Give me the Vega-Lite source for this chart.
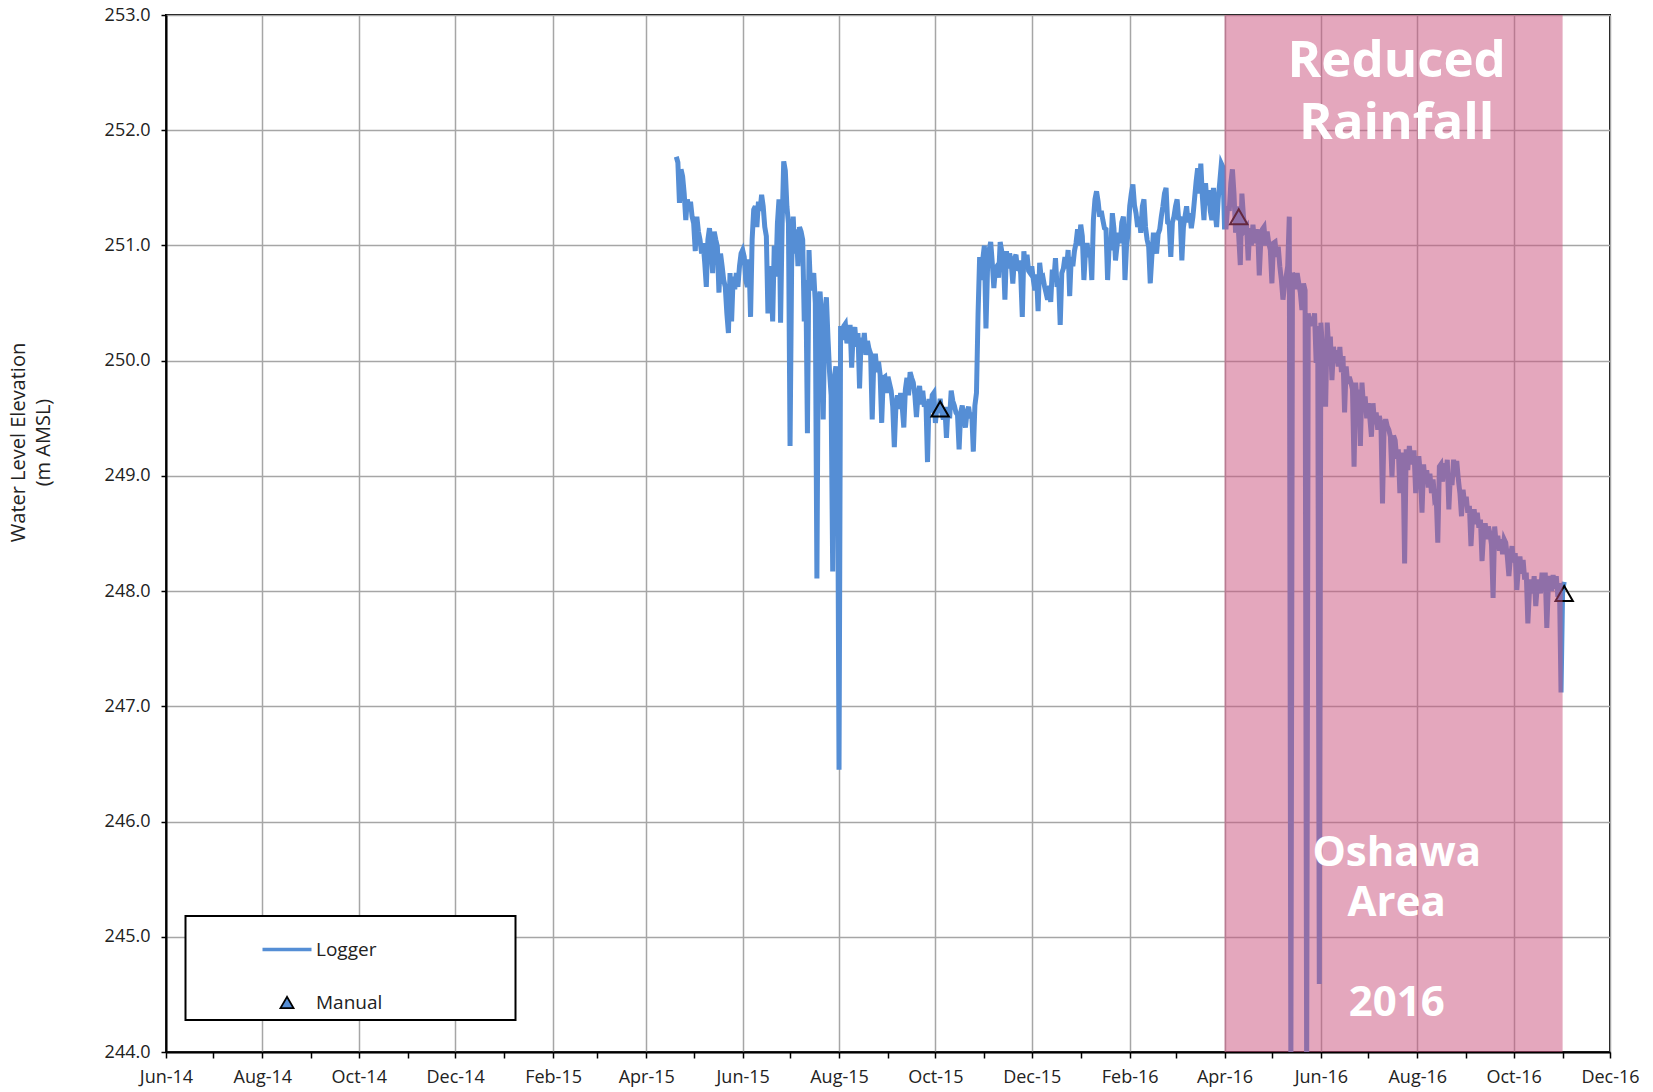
{
"$schema": "https://vega.github.io/schema/vega-lite/v6.json",
"width": 1444, "height": 1037,
"autosize": {"type": "none"},
"padding": {"left": 166, "top": 15, "right": 43, "bottom": 40},
"background": "white",
"config": {
 "font": "Open Sans",
 "view": {"stroke": "black", "strokeWidth": 2},
 "axis": {"domainColor": "black", "domainWidth": 2, "tickColor": "black", "tickWidth": 1.5, "gridColor": "#A6A6A6", "gridWidth": 1.5, "labelFont": "Open Sans", "labelFontSize": 18, "labelColor": "#222222", "titleFont": "Open Sans", "titleFontWeight": "normal", "titleFontSize": 20, "titleColor": "#222222"},
 "legend": {"strokeWidth": 2}
},
"datasets": {
"logger": [
{"d":"2015-04-20","v":251.77},{"d":"2015-04-21","v":251.72},{"d":"2015-04-22","v":251.37},{"d":"2015-04-23","v":251.66},{"d":"2015-04-24","v":251.60},{"d":"2015-04-25","v":251.45},{"d":"2015-04-26","v":251.22},{"d":"2015-04-27","v":251.40},{"d":"2015-04-28","v":251.30},{"d":"2015-04-29","v":251.38},{"d":"2015-04-30","v":251.25},
{"d":"2015-05-01","v":251.19},{"d":"2015-05-02","v":250.95},{"d":"2015-05-03","v":251.25},{"d":"2015-05-04","v":251.12},{"d":"2015-05-05","v":251.05},{"d":"2015-05-06","v":250.93},{"d":"2015-05-07","v":251.02},{"d":"2015-05-08","v":250.85},{"d":"2015-05-09","v":250.64},{"d":"2015-05-10","v":251.05},{"d":"2015-05-11","v":251.15},{"d":"2015-05-12","v":251.00},{"d":"2015-05-13","v":250.76},{"d":"2015-05-14","v":251.12},{"d":"2015-05-15","v":251.05},{"d":"2015-05-16","v":250.99},{"d":"2015-05-17","v":250.59},{"d":"2015-05-18","v":250.93},{"d":"2015-05-19","v":250.82},{"d":"2015-05-20","v":250.70},{"d":"2015-05-21","v":250.64},{"d":"2015-05-22","v":250.41},{"d":"2015-05-23","v":250.24},{"d":"2015-05-24","v":250.76},{"d":"2015-05-25","v":250.34},{"d":"2015-05-26","v":250.73},{"d":"2015-05-27","v":250.62},{"d":"2015-05-28","v":250.76},{"d":"2015-05-29","v":250.64},{"d":"2015-05-30","v":250.82},{"d":"2015-05-31","v":250.93},
{"d":"2015-06-01","v":250.96},{"d":"2015-06-02","v":250.90},{"d":"2015-06-03","v":250.70},{"d":"2015-06-04","v":250.64},{"d":"2015-06-05","v":250.88},{"d":"2015-06-06","v":250.38},{"d":"2015-06-07","v":251.05},{"d":"2015-06-08","v":251.31},{"d":"2015-06-09","v":251.34},{"d":"2015-06-10","v":251.16},{"d":"2015-06-11","v":251.38},{"d":"2015-06-12","v":251.30},{"d":"2015-06-13","v":251.44},{"d":"2015-06-14","v":251.34},{"d":"2015-06-15","v":251.16},{"d":"2015-06-16","v":251.08},{"d":"2015-06-17","v":250.41},{"d":"2015-06-18","v":250.82},{"d":"2015-06-19","v":250.67},{"d":"2015-06-20","v":250.34},{"d":"2015-06-21","v":251.00},{"d":"2015-06-22","v":250.73},{"d":"2015-06-23","v":251.19},{"d":"2015-06-24","v":251.40},{"d":"2015-06-25","v":250.33},{"d":"2015-06-26","v":251.19},{"d":"2015-06-27","v":251.73},{"d":"2015-06-28","v":251.65},{"d":"2015-06-29","v":251.34},{"d":"2015-06-30","v":251.19},
{"d":"2015-07-01","v":249.26},{"d":"2015-07-02","v":250.82},{"d":"2015-07-03","v":251.25},{"d":"2015-07-04","v":250.93},{"d":"2015-07-05","v":251.14},{"d":"2015-07-06","v":250.82},{"d":"2015-07-07","v":251.16},{"d":"2015-07-08","v":251.12},{"d":"2015-07-09","v":251.05},{"d":"2015-07-10","v":250.34},{"d":"2015-07-11","v":250.70},{"d":"2015-07-12","v":249.37},{"d":"2015-07-13","v":250.96},{"d":"2015-07-14","v":250.61},{"d":"2015-07-15","v":250.70},{"d":"2015-07-16","v":250.76},{"d":"2015-07-17","v":250.50},{"d":"2015-07-18","v":248.11},{"d":"2015-07-19","v":250.50},{"d":"2015-07-20","v":250.60},{"d":"2015-07-21","v":250.35},{"d":"2015-07-22","v":249.49},{"d":"2015-07-23","v":250.40},{"d":"2015-07-24","v":250.55},{"d":"2015-07-25","v":250.20},{"d":"2015-07-26","v":249.90},{"d":"2015-07-27","v":249.70},{"d":"2015-07-28","v":248.17},{"d":"2015-07-29","v":249.85},{"d":"2015-07-30","v":249.95},{"d":"2015-07-31","v":249.60},
{"d":"2015-08-01","v":246.45},{"d":"2015-08-02","v":250.30},{"d":"2015-08-03","v":250.18},{"d":"2015-08-04","v":250.30},{"d":"2015-08-05","v":250.32},{"d":"2015-08-06","v":250.15},{"d":"2015-08-07","v":250.25},{"d":"2015-08-08","v":250.31},{"d":"2015-08-09","v":249.94},{"d":"2015-08-10","v":250.25},{"d":"2015-08-11","v":250.29},{"d":"2015-08-12","v":250.12},{"d":"2015-08-13","v":250.24},{"d":"2015-08-14","v":249.76},{"d":"2015-08-15","v":250.20},{"d":"2015-08-16","v":250.08},{"d":"2015-08-17","v":250.24},{"d":"2015-08-18","v":250.05},{"d":"2015-08-19","v":250.17},{"d":"2015-08-20","v":250.10},{"d":"2015-08-21","v":250.06},{"d":"2015-08-22","v":249.49},{"d":"2015-08-23","v":250.00},{"d":"2015-08-24","v":250.06},{"d":"2015-08-25","v":249.90},{"d":"2015-08-26","v":249.99},{"d":"2015-08-27","v":249.88},{"d":"2015-08-28","v":249.46},{"d":"2015-08-29","v":249.85},{"d":"2015-08-30","v":249.86},{"d":"2015-08-31","v":249.72},
{"d":"2015-09-01","v":249.86},{"d":"2015-09-02","v":249.80},{"d":"2015-09-03","v":249.74},{"d":"2015-09-04","v":249.60},{"d":"2015-09-05","v":249.25},{"d":"2015-09-06","v":249.60},{"d":"2015-09-07","v":249.70},{"d":"2015-09-08","v":249.58},{"d":"2015-09-09","v":249.72},{"d":"2015-09-10","v":249.60},{"d":"2015-09-11","v":249.42},{"d":"2015-09-12","v":249.75},{"d":"2015-09-13","v":249.85},{"d":"2015-09-14","v":249.70},{"d":"2015-09-15","v":249.90},{"d":"2015-09-16","v":249.85},{"d":"2015-09-17","v":249.81},{"d":"2015-09-18","v":249.70},{"d":"2015-09-19","v":249.51},{"d":"2015-09-20","v":249.70},{"d":"2015-09-21","v":249.78},{"d":"2015-09-22","v":249.62},{"d":"2015-09-23","v":249.74},{"d":"2015-09-24","v":249.60},{"d":"2015-09-25","v":249.65},{"d":"2015-09-26","v":249.12},{"d":"2015-09-27","v":249.67},{"d":"2015-09-28","v":249.55},{"d":"2015-09-29","v":249.70},{"d":"2015-09-30","v":249.72},
{"d":"2015-10-01","v":249.46},{"d":"2015-10-02","v":249.60},{"d":"2015-10-03","v":249.55},{"d":"2015-10-04","v":249.67},{"d":"2015-10-05","v":249.55},{"d":"2015-10-06","v":249.49},{"d":"2015-10-07","v":249.60},{"d":"2015-10-08","v":249.33},{"d":"2015-10-09","v":249.60},{"d":"2015-10-10","v":249.50},{"d":"2015-10-11","v":249.74},{"d":"2015-10-12","v":249.65},{"d":"2015-10-13","v":249.61},{"d":"2015-10-14","v":249.55},{"d":"2015-10-15","v":249.53},{"d":"2015-10-16","v":249.23},{"d":"2015-10-17","v":249.55},{"d":"2015-10-18","v":249.61},{"d":"2015-10-19","v":249.50},{"d":"2015-10-20","v":249.42},{"d":"2015-10-21","v":249.55},{"d":"2015-10-22","v":249.60},{"d":"2015-10-23","v":249.50},{"d":"2015-10-24","v":249.55},{"d":"2015-10-25","v":249.21},{"d":"2015-10-26","v":249.61},{"d":"2015-10-27","v":249.72},{"d":"2015-10-28","v":250.40},{"d":"2015-10-29","v":250.90},{"d":"2015-10-30","v":250.70},{"d":"2015-10-31","v":250.88},
{"d":"2015-11-01","v":251.00},{"d":"2015-11-02","v":250.28},{"d":"2015-11-03","v":250.80},{"d":"2015-11-04","v":250.96},{"d":"2015-11-05","v":251.03},{"d":"2015-11-06","v":250.85},{"d":"2015-11-07","v":250.63},{"d":"2015-11-08","v":250.80},{"d":"2015-11-09","v":250.82},{"d":"2015-11-10","v":250.72},{"d":"2015-11-11","v":251.03},{"d":"2015-11-12","v":250.95},{"d":"2015-11-13","v":250.90},{"d":"2015-11-14","v":250.53},{"d":"2015-11-15","v":250.95},{"d":"2015-11-16","v":250.80},{"d":"2015-11-17","v":250.93},{"d":"2015-11-18","v":250.85},{"d":"2015-11-19","v":250.67},{"d":"2015-11-20","v":250.88},{"d":"2015-11-21","v":250.92},{"d":"2015-11-22","v":250.78},{"d":"2015-11-23","v":250.87},{"d":"2015-11-24","v":250.75},{"d":"2015-11-25","v":250.38},{"d":"2015-11-26","v":250.95},{"d":"2015-11-27","v":250.80},{"d":"2015-11-28","v":250.92},{"d":"2015-11-29","v":250.78},{"d":"2015-11-30","v":250.76},
{"d":"2015-12-01","v":250.82},{"d":"2015-12-02","v":250.70},{"d":"2015-12-03","v":250.61},{"d":"2015-12-04","v":250.75},{"d":"2015-12-05","v":250.43},{"d":"2015-12-06","v":250.85},{"d":"2015-12-07","v":250.72},{"d":"2015-12-08","v":250.73},{"d":"2015-12-09","v":250.65},{"d":"2015-12-10","v":250.59},{"d":"2015-12-11","v":250.53},{"d":"2015-12-12","v":250.65},{"d":"2015-12-13","v":250.51},{"d":"2015-12-14","v":250.79},{"d":"2015-12-15","v":250.70},{"d":"2015-12-16","v":250.89},{"d":"2015-12-17","v":250.64},{"d":"2015-12-18","v":250.70},{"d":"2015-12-19","v":250.31},{"d":"2015-12-20","v":250.76},{"d":"2015-12-21","v":250.80},{"d":"2015-12-22","v":250.90},{"d":"2015-12-23","v":250.80},{"d":"2015-12-24","v":250.96},{"d":"2015-12-25","v":250.56},{"d":"2015-12-26","v":250.90},{"d":"2015-12-27","v":250.82},{"d":"2015-12-28","v":250.95},{"d":"2015-12-29","v":251.02},{"d":"2015-12-30","v":251.14},{"d":"2015-12-31","v":251.00},
{"d":"2016-01-01","v":251.18},{"d":"2016-01-02","v":251.08},{"d":"2016-01-03","v":250.70},{"d":"2016-01-04","v":250.95},{"d":"2016-01-05","v":251.02},{"d":"2016-01-06","v":250.90},{"d":"2016-01-07","v":250.96},{"d":"2016-01-08","v":250.70},{"d":"2016-01-09","v":251.22},{"d":"2016-01-10","v":251.40},{"d":"2016-01-11","v":251.47},{"d":"2016-01-12","v":251.38},{"d":"2016-01-13","v":251.25},{"d":"2016-01-14","v":251.30},{"d":"2016-01-15","v":251.22},{"d":"2016-01-16","v":251.15},{"d":"2016-01-17","v":251.14},{"d":"2016-01-18","v":250.70},{"d":"2016-01-19","v":251.00},{"d":"2016-01-20","v":250.96},{"d":"2016-01-21","v":251.28},{"d":"2016-01-22","v":251.15},{"d":"2016-01-23","v":250.87},{"d":"2016-01-24","v":251.00},{"d":"2016-01-25","v":251.11},{"d":"2016-01-26","v":251.02},{"d":"2016-01-27","v":251.20},{"d":"2016-01-28","v":251.25},{"d":"2016-01-29","v":250.70},{"d":"2016-01-30","v":251.00},{"d":"2016-01-31","v":251.11},
{"d":"2016-02-01","v":251.34},{"d":"2016-02-02","v":251.45},{"d":"2016-02-03","v":251.53},{"d":"2016-02-04","v":251.35},{"d":"2016-02-05","v":251.28},{"d":"2016-02-06","v":251.16},{"d":"2016-02-07","v":251.25},{"d":"2016-02-08","v":251.11},{"d":"2016-02-09","v":251.34},{"d":"2016-02-10","v":251.40},{"d":"2016-02-11","v":251.16},{"d":"2016-02-12","v":251.05},{"d":"2016-02-13","v":250.99},{"d":"2016-02-14","v":250.67},{"d":"2016-02-15","v":250.90},{"d":"2016-02-16","v":251.11},{"d":"2016-02-17","v":251.00},{"d":"2016-02-18","v":250.93},{"d":"2016-02-19","v":251.10},{"d":"2016-02-20","v":251.14},{"d":"2016-02-21","v":251.25},{"d":"2016-02-22","v":251.34},{"d":"2016-02-23","v":251.45},{"d":"2016-02-24","v":251.50},{"d":"2016-02-25","v":251.20},{"d":"2016-02-26","v":251.19},{"d":"2016-02-27","v":250.90},{"d":"2016-02-28","v":251.20},{"d":"2016-02-29","v":251.25},
{"d":"2016-03-01","v":251.34},{"d":"2016-03-02","v":251.40},{"d":"2016-03-03","v":251.22},{"d":"2016-03-04","v":251.25},{"d":"2016-03-05","v":250.87},{"d":"2016-03-06","v":251.16},{"d":"2016-03-07","v":251.25},{"d":"2016-03-08","v":251.34},{"d":"2016-03-09","v":251.20},{"d":"2016-03-10","v":251.28},{"d":"2016-03-11","v":251.15},{"d":"2016-03-12","v":251.25},{"d":"2016-03-13","v":251.40},{"d":"2016-03-14","v":251.55},{"d":"2016-03-15","v":251.67},{"d":"2016-03-16","v":251.45},{"d":"2016-03-17","v":251.71},{"d":"2016-03-18","v":251.42},{"d":"2016-03-19","v":251.22},{"d":"2016-03-20","v":251.54},{"d":"2016-03-21","v":251.35},{"d":"2016-03-22","v":251.48},{"d":"2016-03-23","v":251.30},{"d":"2016-03-24","v":251.22},{"d":"2016-03-25","v":251.50},{"d":"2016-03-26","v":251.30},{"d":"2016-03-27","v":251.16},{"d":"2016-03-28","v":251.40},{"d":"2016-03-29","v":251.55},{"d":"2016-03-30","v":251.71},{"d":"2016-03-31","v":251.68},
{"d":"2016-04-01","v":251.16},{"d":"2016-04-02","v":251.16},{"d":"2016-04-03","v":251.34},{"d":"2016-04-04","v":251.30},{"d":"2016-04-05","v":251.54},{"d":"2016-04-06","v":251.66},{"d":"2016-04-07","v":251.45},{"d":"2016-04-08","v":251.11},{"d":"2016-04-09","v":251.34},{"d":"2016-04-10","v":251.08},{"d":"2016-04-11","v":250.83},{"d":"2016-04-12","v":251.45},{"d":"2016-04-13","v":251.25},{"d":"2016-04-14","v":251.14},{"d":"2016-04-15","v":251.16},{"d":"2016-04-16","v":250.87},{"d":"2016-04-17","v":251.15},{"d":"2016-04-18","v":251.00},{"d":"2016-04-19","v":251.18},{"d":"2016-04-20","v":251.02},{"d":"2016-04-21","v":251.08},{"d":"2016-04-22","v":251.14},{"d":"2016-04-23","v":250.74},{"d":"2016-04-24","v":251.05},{"d":"2016-04-25","v":251.14},{"d":"2016-04-26","v":251.16},{"d":"2016-04-27","v":251.00},{"d":"2016-04-28","v":251.12},{"d":"2016-04-29","v":251.02},{"d":"2016-04-30","v":250.96},
{"d":"2016-05-01","v":250.67},{"d":"2016-05-02","v":251.02},{"d":"2016-05-03","v":251.03},{"d":"2016-05-04","v":250.90},{"d":"2016-05-05","v":250.99},{"d":"2016-05-06","v":250.82},{"d":"2016-05-07","v":250.70},{"d":"2016-05-08","v":250.53},{"d":"2016-05-09","v":250.65},{"d":"2016-05-10","v":250.73},{"d":"2016-05-11","v":250.82},{"d":"2016-05-12","v":251.25},{"d":"2016-05-13","v":243.8},{"d":"2016-05-14","v":250.76},{"d":"2016-05-15","v":250.73},{"d":"2016-05-16","v":250.62},{"d":"2016-05-17","v":250.76},{"d":"2016-05-18","v":250.67},{"d":"2016-05-19","v":250.59},{"d":"2016-05-20","v":250.44},{"d":"2016-05-21","v":250.67},{"d":"2016-05-22","v":250.61},{"d":"2016-05-23","v":243.8},{"d":"2016-05-24","v":250.41},{"d":"2016-05-25","v":250.30},{"d":"2016-05-26","v":250.38},{"d":"2016-05-27","v":250.33},{"d":"2016-05-28","v":250.41},{"d":"2016-05-29","v":249.98},{"d":"2016-05-30","v":250.30},{"d":"2016-05-31","v":244.59},
{"d":"2016-06-01","v":250.33},{"d":"2016-06-02","v":250.10},{"d":"2016-06-03","v":250.15},{"d":"2016-06-04","v":249.60},{"d":"2016-06-05","v":250.33},{"d":"2016-06-06","v":250.10},{"d":"2016-06-07","v":250.21},{"d":"2016-06-08","v":249.83},{"d":"2016-06-09","v":250.12},{"d":"2016-06-10","v":249.98},{"d":"2016-06-11","v":250.09},{"d":"2016-06-12","v":249.95},{"d":"2016-06-13","v":250.12},{"d":"2016-06-14","v":249.90},{"d":"2016-06-15","v":250.04},{"d":"2016-06-16","v":249.55},{"d":"2016-06-17","v":249.95},{"d":"2016-06-18","v":249.80},{"d":"2016-06-19","v":249.86},{"d":"2016-06-20","v":249.81},{"d":"2016-06-21","v":249.75},{"d":"2016-06-22","v":249.08},{"d":"2016-06-23","v":249.81},{"d":"2016-06-24","v":249.62},{"d":"2016-06-25","v":249.75},{"d":"2016-06-26","v":249.26},{"d":"2016-06-27","v":249.81},{"d":"2016-06-28","v":249.60},{"d":"2016-06-29","v":249.69},{"d":"2016-06-30","v":249.50},
{"d":"2016-07-01","v":249.63},{"d":"2016-07-02","v":249.50},{"d":"2016-07-03","v":249.34},{"d":"2016-07-04","v":249.63},{"d":"2016-07-05","v":249.45},{"d":"2016-07-06","v":249.55},{"d":"2016-07-07","v":249.40},{"d":"2016-07-08","v":249.52},{"d":"2016-07-09","v":249.45},{"d":"2016-07-10","v":248.76},{"d":"2016-07-11","v":249.43},{"d":"2016-07-12","v":249.49},{"d":"2016-07-13","v":249.43},{"d":"2016-07-14","v":249.40},{"d":"2016-07-15","v":249.34},{"d":"2016-07-16","v":248.99},{"d":"2016-07-17","v":249.35},{"d":"2016-07-18","v":249.31},{"d":"2016-07-19","v":249.15},{"d":"2016-07-20","v":249.23},{"d":"2016-07-21","v":248.85},{"d":"2016-07-22","v":249.20},{"d":"2016-07-23","v":249.14},{"d":"2016-07-24","v":248.24},{"d":"2016-07-25","v":249.23},{"d":"2016-07-26","v":249.05},{"d":"2016-07-27","v":249.26},{"d":"2016-07-28","v":249.10},{"d":"2016-07-29","v":249.20},{"d":"2016-07-30","v":249.20},{"d":"2016-07-31","v":248.85},
{"d":"2016-08-01","v":249.10},{"d":"2016-08-02","v":249.17},{"d":"2016-08-03","v":249.00},{"d":"2016-08-04","v":248.68},{"d":"2016-08-05","v":249.10},{"d":"2016-08-06","v":248.95},{"d":"2016-08-07","v":249.05},{"d":"2016-08-08","v":248.90},{"d":"2016-08-09","v":249.02},{"d":"2016-08-10","v":248.85},{"d":"2016-08-11","v":248.97},{"d":"2016-08-12","v":248.80},{"d":"2016-08-13","v":248.82},{"d":"2016-08-14","v":248.42},{"d":"2016-08-15","v":249.08},{"d":"2016-08-16","v":249.10},{"d":"2016-08-17","v":248.95},{"d":"2016-08-18","v":249.11},{"d":"2016-08-19","v":248.98},{"d":"2016-08-20","v":249.14},{"d":"2016-08-21","v":248.71},{"d":"2016-08-22","v":249.02},{"d":"2016-08-23","v":248.92},{"d":"2016-08-24","v":249.14},{"d":"2016-08-25","v":249.00},{"d":"2016-08-26","v":249.13},{"d":"2016-08-27","v":248.97},{"d":"2016-08-28","v":248.85},{"d":"2016-08-29","v":248.65},{"d":"2016-08-30","v":248.88},{"d":"2016-08-31","v":248.75},
{"d":"2016-09-01","v":248.82},{"d":"2016-09-02","v":248.68},{"d":"2016-09-03","v":248.74},{"d":"2016-09-04","v":248.39},{"d":"2016-09-05","v":248.65},{"d":"2016-09-06","v":248.71},{"d":"2016-09-07","v":248.58},{"d":"2016-09-08","v":248.68},{"d":"2016-09-09","v":248.55},{"d":"2016-09-10","v":248.62},{"d":"2016-09-11","v":248.26},{"d":"2016-09-12","v":248.50},{"d":"2016-09-13","v":248.59},{"d":"2016-09-14","v":248.45},{"d":"2016-09-15","v":248.56},{"d":"2016-09-16","v":248.50},{"d":"2016-09-17","v":248.40},{"d":"2016-09-18","v":247.94},{"d":"2016-09-19","v":248.56},{"d":"2016-09-20","v":248.40},{"d":"2016-09-21","v":248.48},{"d":"2016-09-22","v":248.35},{"d":"2016-09-23","v":248.45},{"d":"2016-09-24","v":248.32},{"d":"2016-09-25","v":248.45},{"d":"2016-09-26","v":248.42},{"d":"2016-09-27","v":248.30},{"d":"2016-09-28","v":248.13},{"d":"2016-09-29","v":248.30},{"d":"2016-09-30","v":248.39},
{"d":"2016-10-01","v":248.25},{"d":"2016-10-02","v":248.33},{"d":"2016-10-03","v":248.01},{"d":"2016-10-04","v":248.20},{"d":"2016-10-05","v":248.30},{"d":"2016-10-06","v":248.15},{"d":"2016-10-07","v":248.27},{"d":"2016-10-08","v":248.10},{"d":"2016-10-09","v":248.16},{"d":"2016-10-10","v":247.72},{"d":"2016-10-11","v":248.00},{"d":"2016-10-12","v":248.10},{"d":"2016-10-13","v":247.98},{"d":"2016-10-14","v":248.13},{"d":"2016-10-15","v":247.87},{"d":"2016-10-16","v":248.05},{"d":"2016-10-17","v":248.10},{"d":"2016-10-18","v":247.98},{"d":"2016-10-19","v":248.16},{"d":"2016-10-20","v":248.02},{"d":"2016-10-21","v":248.16},{"d":"2016-10-22","v":247.68},{"d":"2016-10-23","v":248.05},{"d":"2016-10-24","v":248.13},{"d":"2016-10-25","v":248.00},{"d":"2016-10-26","v":248.14},{"d":"2016-10-27","v":248.02},{"d":"2016-10-28","v":248.13},{"d":"2016-10-29","v":247.95},{"d":"2016-10-30","v":248.07},{"d":"2016-10-31","v":247.12},
{"d":"2016-11-01","v":248.00},{"d":"2016-11-02","v":248.08}
],
"manual": [{"d":"2015-10-04","v":249.58},{"d":"2016-04-10","v":251.25},{"d":"2016-11-02","v":247.98}],
"zone": [{"start":"2016-04-01","end":"2016-11-01"}],
"notes": [
{"label":"Reduced","block":"top","d":"2016-07-19","v":252.46},
{"label":"Rainfall","block":"top","d":"2016-07-19","v":251.92},
{"label":"Oshawa","block":"bottom","d":"2016-07-19","v":245.61},
{"label":"Area","block":"bottom","d":"2016-07-19","v":245.18},
{"label":"2016","block":"bottom","d":"2016-07-19","v":244.31}
]
},
"layer": [
{
 "data": {"name": "logger"},
 "mark": {"type": "line", "clip": true, "color": "#558ED5", "strokeWidth": 5},
 "encoding": {
  "x": {"field": "d", "type": "temporal", "title": null,
   "scale": {"type": "utc", "domain": [{"year": 2014, "month": 6, "date": 1, "utc": true}, {"year": 2016, "month": 12, "date": 1, "utc": true}], "nice": false},
   "axis": {"orient": "bottom", "title": null, "tickCount": {"interval": "month", "step": 1}, "labelExpr": "utcmonth(datum.value) % 2 === 1 ? utcFormat(datum.value, '%b-%y') : ''", "gridOpacity": {"condition": {"test": "utcmonth(datum.value) % 2 === 1", "value": 1}, "value": 0}, "tickSize": 6, "labelPadding": 10, "labelOverlap": false, "labelFlush": false, "grid": true}},
  "y": {"field": "v", "type": "quantitative",
   "scale": {"domain": [244, 253], "nice": false, "zero": false},
   "axis": {"values": [244,245,246,247,248,249,250,251,252,253], "format": ".1f", "tickSize": 5, "labelPadding": 11, "grid": true, "title": ["Water Level Elevation", "(m AMSL)"], "titleX": -138, "titleY": 427, "titleLineHeight": 25, "titleBaseline": "bottom", "titleAlign": "center", "titleAngle": 270}}
 }
},
{
 "data": {"name": "manual"},
 "mark": {"type": "point", "filled": true, "opacity": 0},
 "encoding": {
  "x": {"field": "d", "type": "temporal", "title": null},
  "y": {"field": "v", "type": "quantitative"},
  "fill": {"datum": "Manual", "type": "nominal", "scale": {"domain": ["Logger", "Manual"], "range": ["transparent", "#558ED5"]},
   "legend": {"title": null, "orient": "none", "legendX": 19.5, "legendY": 901, "direction": "vertical", "padding": 7, "strokeColor": "black", "fillColor": "white", "symbolOpacity": 1, "symbolOffset": 68, "labelOffset": 2.5, "labelFont": "Open Sans", "labelFontSize": 19, "labelColor": "#222222", "rowPadding": 33, "labelLimit": 0, "labelExpr": "datum.label + '\u2800\u2800\u2800\u2800\u2800\u2800\u2800\u2800\u2800'"}},
  "stroke": {"datum": "Manual", "type": "nominal", "scale": {"domain": ["Logger", "Manual"], "range": ["#558ED5", "black"]},
   "legend": {"title": null, "orient": "none", "legendX": 19.5, "legendY": 901, "direction": "vertical", "padding": 7, "strokeColor": "black", "fillColor": "white", "symbolOpacity": 1, "symbolOffset": 68, "labelOffset": 2.5, "labelFont": "Open Sans", "labelFontSize": 19, "labelColor": "#222222", "rowPadding": 33, "labelLimit": 0, "labelExpr": "datum.label + '\u2800\u2800\u2800\u2800\u2800\u2800\u2800\u2800\u2800'"}},
  "strokeWidth": {"datum": "Manual", "type": "nominal", "scale": {"type": "ordinal", "domain": ["Logger", "Manual"], "range": [3.5, 1.8]},
   "legend": {"title": null, "orient": "none", "legendX": 19.5, "legendY": 901, "direction": "vertical", "padding": 7, "strokeColor": "black", "fillColor": "white", "symbolOpacity": 1, "symbolOffset": 68, "labelOffset": 2.5, "labelFont": "Open Sans", "labelFontSize": 19, "labelColor": "#222222", "rowPadding": 33, "labelLimit": 0, "labelExpr": "datum.label + '\u2800\u2800\u2800\u2800\u2800\u2800\u2800\u2800\u2800'"}},
  "shape": {"datum": "Manual", "type": "nominal", "scale": {"domain": ["Logger", "Manual"], "range": ["stroke", "triangle-up"]},
   "legend": {"title": null, "orient": "none", "legendX": 19.5, "legendY": 901, "direction": "vertical", "padding": 7, "strokeColor": "black", "fillColor": "white", "symbolOpacity": 1, "symbolOffset": 68, "labelOffset": 2.5, "labelFont": "Open Sans", "labelFontSize": 19, "labelColor": "#222222", "rowPadding": 33, "labelLimit": 0, "labelExpr": "datum.label + '\u2800\u2800\u2800\u2800\u2800\u2800\u2800\u2800\u2800'"}},
  "size": {"datum": "Manual", "type": "nominal", "scale": {"type": "ordinal", "domain": ["Logger", "Manual"], "range": [2401, 170]},
   "legend": {"title": null, "orient": "none", "legendX": 19.5, "legendY": 901, "direction": "vertical", "padding": 7, "strokeColor": "black", "fillColor": "white", "symbolOpacity": 1, "symbolOffset": 68, "labelOffset": 2.5, "labelFont": "Open Sans", "labelFontSize": 19, "labelColor": "#222222", "rowPadding": 33, "labelLimit": 0, "labelExpr": "datum.label + '\u2800\u2800\u2800\u2800\u2800\u2800\u2800\u2800\u2800'"}}
 }
},
{
 "data": {"name": "manual"},
 "mark": {"type": "point", "shape": "triangle-up", "filled": false, "stroke": "black", "strokeWidth": 2, "size": 300, "opacity": 1},
 "encoding": {
  "x": {"field": "d", "type": "temporal", "title": null},
  "y": {"field": "v", "type": "quantitative"}
 }
},
{
 "data": {"name": "zone"},
 "mark": {"type": "rect", "color": "#C94F7C", "opacity": 0.5},
 "encoding": {
  "x": {"field": "start", "type": "temporal", "title": null},
  "x2": {"field": "end"}
 }
},
{
 "data": {"name": "notes"},
 "transform": [{"filter": "datum.block === 'top'"}],
 "mark": {"type": "text", "font": "Open Sans", "fontWeight": "bold", "fontSize": 51, "color": "white", "align": "center", "baseline": "alphabetic"},
 "encoding": {
  "x": {"field": "d", "type": "temporal", "title": null},
  "y": {"field": "v", "type": "quantitative"},
  "text": {"field": "label"}
 }
},
{
 "data": {"name": "notes"},
 "transform": [{"filter": "datum.block === 'bottom'"}],
 "mark": {"type": "text", "font": "Open Sans", "fontWeight": "bold", "fontSize": 42, "color": "white", "align": "center", "baseline": "alphabetic"},
 "encoding": {
  "x": {"field": "d", "type": "temporal", "title": null},
  "y": {"field": "v", "type": "quantitative"},
  "text": {"field": "label"}
 }
}
]
}
